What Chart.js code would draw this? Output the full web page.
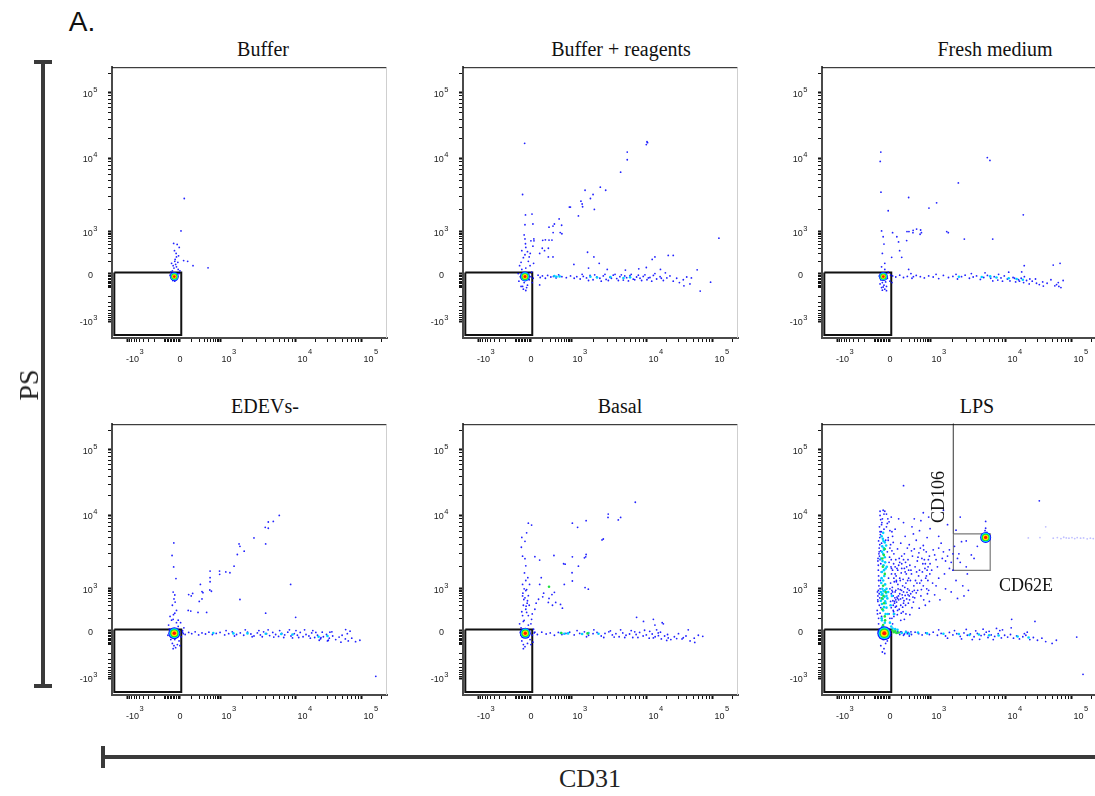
<!DOCTYPE html>
<html>
<head>
<meta charset="utf-8">
<script src="https://cdn.jsdelivr.net/npm/chart.js"></script>
<style>
  body { margin: 0; background: #fff; width: 1095px; height: 796px; overflow: hidden; position: relative; }
  canvas { position: absolute; }
  .t { position: absolute; transform: translate(-50%, -50%); white-space: nowrap; line-height: 1; color: #111; font-family: "Liberation Serif", serif; }
  .bar { position: absolute; background: #3a3a3a; }
</style>
</head>
<body>
<div class="t" style="left:82px;top:22px;font-family:'Liberation Sans',sans-serif;font-size:28px;">A.</div>

<div class="t" style="left:263px;top:49px;font-size:20px;">Buffer</div>
<div class="t" style="left:621px;top:49px;font-size:20px;">Buffer + reagents</div>
<div class="t" style="left:995px;top:49px;font-size:20px;">Fresh medium</div>
<div class="t" style="left:265px;top:406px;font-size:20px;">EDEVs-</div>
<div class="t" style="left:620px;top:406px;font-size:20px;">Basal</div>
<div class="t" style="left:977px;top:406px;font-size:20px;">LPS</div>

<canvas id="c1" width="353" height="313" style="left:42px;top:57px"></canvas>
<canvas id="c2" width="353" height="313" style="left:393px;top:57px"></canvas>
<canvas id="c3" width="353" height="313" style="left:752px;top:57px"></canvas>
<canvas id="c4" width="353" height="313" style="left:42px;top:414px"></canvas>
<canvas id="c5" width="353" height="313" style="left:393px;top:414px"></canvas>
<canvas id="c6" width="353" height="313" style="left:752px;top:414px"></canvas>

<div class="t" style="left:938px;top:497px;font-size:18px;transform:translate(-50%,-50%) rotate(-90deg);">CD106</div>
<div class="t" style="left:1026px;top:585px;font-size:18px;">CD62E</div>

<!-- PS bar -->
<div class="bar" style="left:41px;top:62px;width:4px;height:624px;"></div>
<div class="bar" style="left:34px;top:60px;width:18px;height:4px;"></div>
<div class="bar" style="left:34px;top:684px;width:18px;height:4px;"></div>
<div class="t" style="left:29px;top:385px;font-size:28px;color:#222;transform:translate(-50%,-50%) rotate(-90deg);">PS</div>

<!-- CD31 bar -->
<div class="bar" style="left:103px;top:755px;width:1000px;height:4px;"></div>
<div class="bar" style="left:101px;top:746px;width:4px;height:22px;"></div>
<div class="t" style="left:590px;top:779px;font-size:26px;color:#222;">CD31</div>

<script>
// ---- axis ticks ----
const majorTicks = [-1000, 0, 1000, 10000, 100000];
const majorBase = ['-10', '0', '10', '10', '10'];
const majorExp = ['3', '', '3', '4', '5'];
const minorTicks = [-900, -800, -700, -600, -500, -400, -300, -200, -100,
  -90, -80, -70, -60, -50, -40, -30, -20, -10,
  100, 200, 300, 400, 500, 600, 700, 800, 900,
  2000, 3000, 4000, 5000, 6000, 7000, 8000, 9000,
  20000, 30000, 40000, 50000, 60000, 70000, 80000, 90000, 200000];

// ---- gates (CD31, PS) ----
const gateX = [-2200, 10];
const gateY = [-2400, 8];
const insetX = [2030, 6200];
const insetY = [1790, 5600];

// ---- Buffer ----
const bufferCores = [[-33, -19]];
const bufferEvents = [[33, 2850], [8, 1030], [-37, 430], [-16, 400], [-4, 320], [-20, 150], [-8, 165], [28, 107],
  [61, 100], [114, 60], [402, 42], [-50, 80], [-40, 60], [-30, 100], [-20, 50], [-10, 30], [-45, 20], [-55, 10],
  [-25, 70], [-35, 40], [0, 20], [-60, -10], [-15, -5], [-5, 0], [-48, -30], [-20, -40], [-38, 5], [-28, 120],
  [-12, 90], [-42, -45], [-30, -50], [-22, 200], [-32, 250]];
const bufferDense = [];
const bufferGreen = [];

// ---- Buffer + reagents ----
const reagentCores = [[-35, -19]];
const reagentEvents = [[-37, 17000], [10000, 18000], [10200, 17400], [9800, 16300], [5500, 12500], [5500, 9600],
  [4500, 6500], [2430, 4060], [2860, 3690], [1530, 3690], [1350, 2620], [1400, 2400], [1420, 2200], [1800, 2850],
  [1950, 3230], [2030, 2020], [1250, 1650], [950, 2180], [880, 2180], [405, 1500], [280, 1280], [180, 1160],
  [250, 1200], [490, 1230], [500, 870], [440, 950], [253, 950], [130, 560], [100, 540], [23, 520], [180, 550],
  [230, 550], [170, 300], [95, 300], [70, 200], [120, 250], [250, 150], [170, 150], [-4, 200], [-10, 150], [15, 350],
  [22, 600], [0, 520], [15, 1280], [8, 1750], [-32, 1700], [-35, 1250], [-50, 3230], [-40, 800], [-35, 600],
  [-32, 420], [-30, 320], [1650, 220], [1090, 70], [2350, 80], [13200, 150], [21000, 170], [25000, 170],
  [123000, 630], [57600, 27], [47100, -28], [36300, -85], [92000, -57], [64000, -134], [-60, -90], [-45, -115],
  [-30, -128], [70, -78],
  [56, -10], [75, -25], [97, -15], [130, -30], [160, -12], [210, -22], [260, -18], [320, -28], [390, -8], [500, -20],
  [700, -26], [960, -15], [1100, -30], [1190, -20], [1320, -35], [1450, -18], [1600, -28], [1780, -12], [1950, -40],
  [2180, -22], [2400, -30], [2660, -15], [2900, -38], [3260, -24], [3600, -10], [4000, -32], [4400, -20], [4880, -42],
  [5400, -26], [5970, -14], [6600, -36], [7300, -22], [8100, -30], [8930, -18], [10000, -40], [11100, -25],
  [12500, -12], [14000, -35], [15800, -20], [17700, -45], [20000, -28], [22300, -15], [25000, -50], [28200, -30],
  [31000, -60], [35500, -40], [40000, -22], [44800, -70],
  [1400, -5], [1700, -45], [2050, -8], [2500, -50], [2800, -5], [3100, -45], [3400, -30], [3800, -5], [4200, -45],
  [4600, -8], [5100, -15], [5700, -48], [6200, -5], [6900, -40], [7700, -10], [8500, -45], [9400, -8], [10500, -28],
  [11800, -50], [13200, 0], [16500, -30], [19000, 5],
  [1700, 40], [3000, 30], [5200, 25], [7800, 35], [9800, 45], [16000, 30], [12000, 120], [2000, 150],
  [-70, 60], [-55, 30], [-40, -60], [-20, -80], [-10, -40], [5, 10], [-65, -20], [-50, -90], [-5, 60], [10, -60],
  [-30, 40], [-75, -50], [-25, -100], [0, -20], [-60, 90], [-45, 140], [-35, 180], [-20, 230], [-55, 250],
  [-15, 100], [20, 80], [17, -30], [-80, 0], [-40, -10]];
const reagentDense = [[280, -15], [330, -20], [420, -18], [1800, -20], [2200, -25], [3300, -22], [4900, -28],
  [6000, -24]];
const reagentGreen = [];

// ---- Fresh medium ----
const freshCores = [[-39, -19]];
const freshEvents = [[-55, 12500], [-59, 9100], [-54, 3470], [-10, 1940], [5680, 10300], [6150, 9400], [2360, 4640],
  [190, 2940], [1220, 2490], [920, 2110], [18300, 1710], [1660, 1010], [1740, 940], [2830, 590], [6690, 590],
  [165, 1010], [195, 1010], [274, 1050], [360, 1090], [490, 1060], [470, 840], [520, 940], [270, 940], [20, 940],
  [54, 700], [69, 480], [79, 250], [160, 530], [13, 145], [100, 145], [-50, 1030], [-40, 700], [-35, 410], [-45, 200],
  [-30, 80], [190, 30], [230, 0], [280, -20], [18900, 60], [17300, 12], [52000, 65], [66000, 80], [73500, -45],
  [58400, -75], [63300, -90], [36800, -87], [29000, -65],
  [20, -15], [45, -22], [80, -10], [120, -25], [170, -18], [250, -30], [350, -12], [480, -20], [650, -28], [900, -15],
  [1100, -22], [1300, -32], [1500, -12], [1750, -25], [2000, -18], [2300, -35], [2600, -20], [2900, -10], [3300, -30],
  [3700, -22], [4100, -15], [4600, -38], [5100, -25], [5700, -12], [6300, -30], [7000, -20], [7800, -42], [8600, -28],
  [9500, -15], [10500, -35], [11500, -48], [12800, -25], [14000, -55], [15500, -40], [17000, -30], [18500, -60],
  [20500, -45], [22500, -70], [25000, -50], [28000, -35], [32000, -75], [36000, -55], [42000, -65], [48000, -40],
  [55000, -85], [62000, -60], [68000, -100],
  [1200, -5], [2200, -5], [3500, 0], [5300, 5], [8000, -5], [11000, 10], [13500, -30], [16000, -50], [19000, -20],
  [23000, -35], [9000, -50], [6700, -48],
  [-55, -40], [-45, -60], [-35, -80], [-50, -100], [-30, -115], [-40, -95], [-60, -70], [-25, -55], [-20, -90],
  [-45, -125], [-15, -30], [-65, -15], [-10, 10], [5, -10], [-30, 30], [-50, 50], [0, -50], [-40, -20], [15, -60],
  [-20, -130]];
const freshDense = [[2400, -20], [4800, -22], [6200, -18], [7500, -25], [11000, -30], [14500, -35], [18000, -40]];
const freshGreen = [];

// ---- EDEVs- ----
const edevCores = [[-33, -17]];
const edevEvents = [[6030, 10000], [5030, 8300], [4320, 8150], [3940, 6900], [4320, 6700], [2800, 4940], [3990, 4100],
  [1780, 4100], [1830, 3800], [2080, 3260], [1690, 2940], [1530, 2040], [1350, 1660], [1190, 1700], [960, 1750],
  [970, 1580], [470, 1750], [470, 1420], [470, 1250], [460, 920], [520, 840], [220, 1150], [250, 820], [270, 760],
  [200, 400], [250, 480], [70, 660], [110, 720], [95, 600], [66, 200], [90, 190], [180, 170], [360, 170], [1830, 460],
  [8500, 1150], [3990, 160], [9900, 110], [162000, -890],
  [-36, 4230], [-47, 2850], [-37, 1990], [-23, 1380], [-40, 790], [-30, 640], [-35, 480], [-28, 380], [-45, 300],
  [-20, 200], [-38, 140], [-50, 82], [-10, 82],
  [56600, 7], [66000, -4], [32700, -10], [30900, -65], [22500, -65], [23900, -47],
  [20, -10], [40, -25], [70, -12], [100, -20], [140, -8], [190, -28], [250, -15], [330, -22], [430, -10], [560, -25],
  [750, -18], [1000, -12], [1150, -28], [1300, -20], [1450, -8], [1650, -25], [1850, -15], [2050, -30], [2300, -10],
  [2550, -22], [2800, -35], [3100, -15], [3400, -28], [3750, -8], [4100, -20], [4500, -32], [4950, -12], [5400, -25],
  [5900, -38], [6500, -18], [7100, -28], [7800, -10], [8600, -35], [9500, -20], [10500, -30], [11600, -12],
  [12800, -40], [14200, -25], [15700, -35], [17300, -15], [19200, -45], [21200, -30], [23500, -55], [26000, -40],
  [29000, -25], [32000, -50], [36000, -35], [40000, -60], [45000, -42], [50000, -30], [56000, -55], [62000, -70],
  [70000, -50], [80000, -76], [93000, -65],
  [1200, 0], [1550, -35], [2150, 5], [2650, -40], [3250, 0], [3600, -40], [4300, 5], [5100, -42], [6100, 0],
  [6900, -45], [8200, 5], [9000, -48], [10000, 0], [11000, -45], [13500, 5], [16500, -50], [18000, 0], [20000, -12],
  [25000, -10], [30000, -70], [35000, -8], [48000, -80], [60000, -20],
  [-70, 40], [-60, -20], [-55, -60], [-45, -90], [-35, -110], [-25, -130], [-15, -100], [-5, -70], [10, -40], [20, 0],
  [30, 20], [-20, 60], [-40, 90], [-60, 120], [-30, 160], [-50, -40], [-65, 10], [0, -110], [-40, -140], [-10, 30],
  [25, -20], [-75, -30], [5, 60], [-30, -60]];
const edevDense = [[4000, -20], [2300, -18], [6400, -22], [22000, -40], [30000, -35], [600, -15], [1500, -18],
  [9000, -25]];
const edevGreen = [[-10, -5], [-55, -15]];

// ---- Basal ----
const basalCores = [[-33, -17]];
const basalEvents = [[7020, 15900], [3090, 10500], [3070, 9400], [4500, 9400], [4190, 8700], [1580, 8500],
  [1040, 7850], [1220, 6900], [2660, 4780], [2560, 4650], [1580, 2940], [1560, 2730], [1500, 2650], [1040, 2730],
  [270, 2850], [570, 2200], [640, 2170], [1250, 2040], [1030, 1660], [1040, 1280], [600, 1150], [1530, 1040],
  [1690, 980], [280, 780], [230, 660], [180, 500], [170, 370], [240, 300], [310, 370], [450, 320], [520, 240],
  [85, 1420], [70, 1150], [110, 730], [100, 560], [60, 470], [40, 350], [30, 220], [70, 2470], [30, 2750],
  [7300, 110], [13200, 40], [17700, 50], [42200, 5], [53000, -82], [70000, -37], [35500, -47], [28200, -53],
  [19900, -66], [14900, -33],
  [-15, 7850], [5, 7400], [-25, 5800], [-55, 5030], [-35, 4450], [-58, 3690], [-50, 2790], [-35, 2580], [-30, 2060],
  [-38, 1650], [-18, 1420], [-8, 1150], [-30, 880], [-48, 730], [-15, 610], [-42, 460], [-22, 350], [-30, 220],
  [-15, 130], [-45, 70], [0, 50], [-40, 1000], [-25, 950], [-50, 600], [-35, 520], [-20, 420], [-45, 300], [-28, 280],
  [-55, 180], [-10, 300], [10, 150], [-30, 1300], [-50, 1150],
  [25, -15], [50, -25], [90, -10], [140, -22], [200, -15], [280, -30], [380, -12], [500, -25], [680, -18], [900, -10],
  [1100, -28], [1300, -18], [1500, -8], [1700, -30], [1950, -20], [2200, -12], [2500, -35], [2800, -18], [3150, -8],
  [3500, -28], [3900, -20], [4300, -40], [4800, -15], [5300, -30], [5900, -22], [6500, -45], [7200, -25], [8000, -12],
  [8900, -35], [9800, -28], [10800, -50], [12000, -22], [13300, -40], [14800, -15], [16500, -55], [18500, -35],
  [20500, -25], [23000, -60], [26000, -40], [30000, -20], [34000, -55], [39000, -35], [45000, -70], [52000, -50],
  [60000, -30],
  [1200, 0], [1600, -40], [2000, 5], [2700, -45], [3300, -2], [3700, -42], [4500, 5], [5100, -45], [6200, 0],
  [6900, -8], [7600, -45], [9300, 2], [11000, -5], [12500, -48], [14000, 5], [16000, -10], [17000, 60], [21000, -48],
  [12500, 90], [9000, 70],
  [-70, 50], [-60, -30], [-55, -70], [-45, -100], [-35, -120], [-20, -90], [-5, -60], [10, -30], [20, 10], [-15, 40],
  [-40, 80], [-65, -10], [-30, -40], [0, -100], [-50, 130], [-25, 170], [5, 90], [-45, -140], [15, -80], [-10, -20],
  [-60, 20], [30, -10]];
const basalDense = [[460, -15], [600, -20], [800, -18], [1400, -22], [1700, -15], [2300, -20]];
const basalGreen = [[480, -15], [1650, -18], [180, 1070]];

// ---- LPS ----
const lpsCores = [[-33, -17], [5400, 5030]];
const lpsEvents = [[30, 120], [60, 200], [90, 80], [120, 350], [150, 150], [200, 600], [250, 250], [300, 900],
  [45, 450], [80, 700], [110, 1100], [160, 480], [220, 1300], [280, 380], [350, 750], [420, 1500], [500, 600],
  [600, 1100], [700, 300], [800, 1800], [900, 900], [1000, 2200], [1150, 650], [1300, 1400], [1450, 2600],
  [1600, 1000], [1800, 1900], [2000, 3000], [2200, 1300], [2500, 2300], [2800, 600], [3100, 1600], [3500, 2900],
  [40, 1600], [70, 2100], [100, 2800], [130, 1900], [180, 2500], [240, 3300], [320, 2000], [400, 2700], [480, 3600],
  [560, 1700], [650, 2500], [750, 3200], [850, 1300], [950, 2800], [1100, 3400], [1250, 2000], [1400, 4200],
  [1700, 2800], [2100, 3800], [2600, 4400], [25, 300], [55, 550], [85, 950], [115, 180], [140, 620], [175, 1000],
  [210, 140], [260, 820], [310, 520], [370, 1200], [440, 240], [520, 950], [620, 450], [720, 1400], [820, 700],
  [950, 400], [1200, 1100], [1350, 450], [1550, 1600], [1900, 800], [2300, 500], [2700, 1100], [3200, 900],
  [20, 800], [50, 1250], [95, 1650], [145, 2300], [190, 1400], [230, 1800], [290, 1100], [360, 1700], [460, 1200],
  [580, 2200], [680, 1900], [780, 1000], [880, 2500], [980, 1600], [1080, 1200], [1200, 2500], [1500, 3200],
  [1900, 2300], [2400, 3000], [3000, 2000], [60, 3500], [90, 4200], [140, 5200], [200, 4000], [280, 5600],
  [350, 4600], [450, 6200], [600, 3900], [800, 5000], [1000, 6600], [1300, 5200], [1700, 7500], [2200, 6300],
  [120, 8000], [250, 7000], [500, 8500], [900, 9500], [40, 6500], [70, 9000],
  [-70, 100], [-65, 300], [-75, 600], [-60, 1000], [-70, 1500], [-55, 2200], [-68, 3000], [-62, 4000], [-58, 5500],
  [-50, 7500], [-60, 10000], [-30, 11600], [-45, 9000], [-20, 7000], [-10, 5000], [0, 3600], [10, 2500], [20, 1800],
  [5, 1200], [15, 900], [25, 600], [35, 400], [-5, 8200], [-35, 6500], [-25, 4600], [-15, 3200], [-5, 2300],
  [-80, 200], [-72, 1800], [-66, 3600], [-52, 6000], [30, 3000], [40, 2000], [50, 1300], [-40, 12000], [-20, 10500],
  [15, 6000], [25, 4300], [45, 900], [60, 500], [-78, 800], [-74, 2600], [-64, 7000], [0, 100], [10, 250], [20, 50],
  [35, 150], [-50, 120], [-40, -60], [-25, -90], [-55, -110], [-35, -140], [-15, -70], [-60, -40], [5, -30],
  [-45, -180], [-30, -200],
  [-70, 50], [-60, 160], [-75, 400], [-66, 700], [-58, 1300], [-72, 2100], [-64, 2800], [-56, 3300], [-70, 4500],
  [-60, 6000], [-48, 8000], [-55, 250], [-62, 520], [-68, 1100], [-52, 1700], [-60, 2500], [-50, 4200],
  [-5, 150], [5, 400], [10, 700], [0, 1000], [-8, 1400], [12, 1600], [8, 2000], [-2, 2700], [15, 3300], [5, 4000],
  [-10, 4600], [20, 5200], [0, 6200], [-15, 7800], [10, 9500],
  [25, 200], [35, 350], [50, 280], [70, 450], [90, 300], [110, 520], [40, 800], [65, 1000], [85, 1300], [120, 800],
  [150, 1200], [180, 650], [200, 900], [240, 1600], [270, 550], [330, 1300], [390, 900], [450, 1800], [520, 1300],
  [30, 1400], [55, 1900], [75, 2600], [100, 2200], [130, 3000], [170, 3600], [210, 2100], [260, 2800], [300, 3500],
  [380, 2400], [430, 3100], [540, 2600], [620, 3400], [700, 2200], [760, 1500], [860, 2000], [1050, 1800],
  [1150, 2900], [1300, 3600], [1600, 2400], [1800, 3400], [2300, 2600],
  [15, 100], [28, 180], [42, 260], [58, 140], [75, 220], [95, 160], [110, 260], [130, 90], [22, 420], [38, 520],
  [52, 380], [68, 600], [88, 480], [105, 650], [125, 420], [145, 300], [165, 780], [185, 350], [205, 450], [225, 700],
  [18, 1050], [33, 1250], [48, 1500], [63, 1150], [80, 1400], [98, 900], [115, 1350], [135, 1050], [155, 1600],
  [175, 1300], [12, 1900], [28, 2200], [45, 2500], [62, 1800], [80, 2300], [100, 1900], [120, 2500], [140, 1700],
  [160, 2000], [190, 1800], [-78, 150], [-76, 450], [-72, 900], [-70, 1300], [-75, 2400], [-66, 3200], [-62, 5000],
  [-56, 8800], [-35, 10500], [-12, 9000],
  [60, -5], [80, -25], [100, -10], [120, -30], [150, -5], [170, -20], [200, -35], [230, -8],
  [60, -15], [90, -8], [130, -22], [180, -12], [240, -25], [320, -10], [420, -20], [550, -28], [720, -15], [950, -25],
  [1100, -10], [1250, -30], [1400, -18], [1600, -35], [1800, -12], [2000, -28], [2250, -20], [2500, -38], [2800, -15],
  [3100, -30], [3400, -22], [3800, -40], [4200, -18], [4700, -32], [5200, -25], [5800, -45], [6400, -28], [7100, -38],
  [7900, -20], [8700, -48], [9600, -30], [10600, -42], [11700, -25], [13000, -50], [14500, -35], [16000, -55],
  [18000, -40], [20000, -30], [23000, -60], [26000, -45], [30000, -65], [35000, -50], [40000, -75],
  [1300, 5], [2100, 0], [3000, 8], [4000, -2], [5000, 10], [6000, -5], [7500, 15], [9000, 5], [12000, 20],
  [12200, 90], [27500, 70], [21000, -10], [19000, -20], [58000, -65], [118000, -42], [147000, -780], [50000, -90],
  [1700, -50], [2600, -55], [3600, -60], [4500, -58], [5500, -10], [6800, -60], [8300, 0],
  [120, 28500], [32000, 16700], [-60, 11600], [300, 9000], [600, 11000], [1500, 12000], [2500, 9500],
  [5400, 8300], [5400, 6700], [4200, 3800], [3000, 4500], [3800, 2600], [2000, 1800],
  [5200, 5600], [5700, 5300], [5000, 4700], [5900, 4800], [5300, 6200], [5600, 5900]];
const lpsDense = [[-45, 30], [-30, 60], [-50, 100], [-25, 150], [-40, 200], [-35, 260], [-48, 330], [-28, 400],
  [-42, 480], [-32, 560], [-50, 650], [-22, 750], [-38, 850], [-45, 1000], [-28, 1150], [-40, 1300], [-33, 1500],
  [-48, 1700], [-25, 1900], [-38, 2100], [-44, 2400], [-30, 2700], [-40, 3000], [-35, 3400], [-46, 3800],
  [-30, 4300], [-42, 4800], [-20, 250], [-15, 500], [-55, 420], [-52, 1200], [-20, 1000], [-18, 2000], [-55, 2600],
  [-36, 3600], [-12, 150], [0, 60], [10, 30], [20, 15], [40, 10], [60, 5],
  [-48, 80], [-25, 350], [-45, 700], [-30, 900], [-50, 1400], [-35, 1800], [-28, 2300], [-48, 3200], [-22, 3900],
  [-38, 4500], [-50, 5200], [-40, 5800], [-20, 600], [-55, 800], [100, -15], [150, -10], [200, -20], [-10, 800],
  [5, 300], [15, 600], [30, 150],
  [400, -12], [800, -18], [1500, -20], [2400, -22], [3300, -28], [4400, -25], [6000, -30], [8000, -32],
  [15000, -38], [22000, -45]];
const lpsGreen = [[-40, 40], [-30, 120], [-45, 220], [-35, 350], [-28, 80], [20, 0], [40, -5], [-38, 600],
  [-42, 2000], [-36, 2900], [30, -10], [50, -15], [70, -12], [-48, 500], [-25, 800], [-40, 1100], [-30, 1600],
  [-45, 2600], [-30, 3500]];
const lpsFaint = [[21800, 4940], [32700, 5000], [40000, 7000], [52000, 4900], [60000, 5000], [68000, 4850],
  [75000, 5050], [82000, 4950], [90000, 4900], [100000, 5000], [110000, 4850], [120000, 5000], [135000, 4900],
  [150000, 4950], [170000, 4800], [190000, 4900], [210000, 4850], [230000, 4900], [250000, 4800]];

// ---- biexponential-like display scale ----
const axisAnchors = {
  x: [[-1000, 0.058], [0, 0.247], [1000, 0.393], [10000, 0.669], [100000, 0.909]],
  y: [[-1000, 0.062], [0, 0.238], [1000, 0.392], [10000, 0.663], [100000, 0.905]]
};
const tr = v => Math.asinh(v / 100);

function biexFrac(axis, v) {
  const a = axisAnchors[axis];
  const t = tr(v);
  let i = 0;
  while (i < a.length - 2 && t > tr(a[i + 1][0])) i++;
  const t0 = tr(a[i][0]), t1 = tr(a[i + 1][0]);
  return a[i][1] + (t - t0) / (t1 - t0) * (a[i + 1][1] - a[i][1]);
}

class BiexScale extends Chart.LinearScale {
  determineDataLimits() {
    this.min = -2500;
    this.max = 250000;
  }
  buildTicks() {
    return majorTicks.concat(minorTicks).map(v => ({ value: v }));
  }
  getPixelForValue(v) {
    if (v === null || v === undefined || isNaN(v)) return NaN;
    return this.getPixelForDecimal(biexFrac(this.axis, v));
  }
  getValueForPixel(p) {
    let d = (p - this._startPixel) / this._length;
    if (this._reversePixels) d = 1 - d;
    const a = axisAnchors[this.axis];
    let i = 0;
    while (i < a.length - 2 && d > a[i + 1][1]) i++;
    const t0 = tr(a[i][0]), t1 = tr(a[i + 1][0]);
    const t = t0 + (d - a[i][1]) / (a[i + 1][1] - a[i][1]) * (t1 - t0);
    return 100 * Math.sinh(t);
  }
  // FlowJo style labels: "10" with a raised exponent
  drawLabels() {
    const ctx = this.ctx;
    const baseFont = "9px 'Liberation Sans', Arial, sans-serif";
    const expFont = "7.5px 'Liberation Sans', Arial, sans-serif";
    ctx.save();
    ctx.fillStyle = '#222';
    ctx.textBaseline = 'alphabetic';
    majorTicks.forEach((v, k) => {
      const p = this.getPixelForValue(v);
      const base = majorBase[k], exp = majorExp[k];
      ctx.font = baseFont;
      if (this.isHorizontal()) {
        const by = this.top + 24;
        if (!exp) {
          ctx.textAlign = 'center';
          ctx.fillText(base, p, by);
          return;
        }
        const x0 = base.startsWith('-') ? p - 2 : p + 1.5;
        ctx.textAlign = 'left';
        ctx.fillText(base, x0, by);
        const w = ctx.measureText(base).width;
        ctx.font = expFont;
        ctx.fillText(exp, x0 + w + 0.5, this.top + 16);
      } else {
        const xr = this.right;
        if (!exp) {
          ctx.textAlign = 'center';
          ctx.fillText(base, xr - 21.5, p + 4.5);
          return;
        }
        ctx.font = expFont;
        ctx.textAlign = 'right';
        ctx.fillText(exp, xr - 14.5, p - 1);
        const w = ctx.measureText(exp).width;
        ctx.font = baseFont;
        ctx.fillText(base, xr - 14.5 - w - 0.5, p + 4);
      }
    });
    ctx.restore();
  }
}
BiexScale.id = 'biex';
BiexScale.defaults = {};
Chart.register(BiexScale);

// top and right edges of each plot box
const framePlugin = {
  id: 'frame',
  afterDraw(chart) {
    const { ctx, chartArea: a } = chart;
    ctx.save();
    ctx.lineWidth = 1;
    ctx.strokeStyle = '#111';
    ctx.beginPath();
    ctx.moveTo(a.left, a.top + 0.5);
    ctx.lineTo(a.right, a.top + 0.5);
    ctx.stroke();
    ctx.strokeStyle = '#cfcfcf';
    ctx.beginPath();
    ctx.moveTo(a.right - 0.5, a.top);
    ctx.lineTo(a.right - 0.5, a.bottom);
    ctx.stroke();
    ctx.restore();
  }
};

function axisOpts(pos) {
  return {
    type: 'biex',
    position: pos,
    afterFit: s => { if (pos === 'left') s.width = 60; else s.height = 32; },
    border: { display: true, color: '#4a4a4a', width: 2 },
    grid: {
      display: true,
      drawOnChartArea: false,
      drawTicks: true,
      tickLength: 4,
      tickColor: '#111',
      tickWidth: c => (majorTicks.includes(c.tick.value) ? 2 : 1)
    },
    ticks: { autoSkip: false, maxRotation: 0, callback: () => '' }
  };
}

const coreColors = ['#ff1a00', '#ffe600', '#1ee61e', '#00dcff', '#1010ff'];
const coreScale = [0.3, 0.5, 0.68, 0.84, 1];

function makePanel(id, p) {
  const datasets = [];
  coreColors.forEach((c, i) => {
    datasets.push({ data: p.cores, backgroundColor: c, pointRadius: p.coreSize.map(s => s * coreScale[i]), order: i });
  });
  datasets.push({ data: p.green, backgroundColor: '#22e040', pointRadius: 1.3, order: 5 });
  datasets.push({ data: p.dense, backgroundColor: '#00cfff', pointRadius: 1.3, order: 6 });
  datasets.push({ data: p.faint || [], backgroundColor: 'rgba(130,130,255,0.5)', pointRadius: 0.9, order: 7 });
  datasets.push({ data: p.events, backgroundColor: 'rgba(10,10,255,0.9)', pointRadius: 0.9, order: 8 });
  datasets.push({
    data: [[gateX[0], gateY[1]], [gateX[1], gateY[1]], [gateX[1], gateY[0]], [gateX[0], gateY[0]], [gateX[0], gateY[1]]],
    showLine: true, pointRadius: 0, borderColor: '#111', borderWidth: 2, order: 9
  });
  if (p.inset) {
    datasets.push({
      data: [[insetX[0], 400000], [insetX[0], insetY[1]]],
      showLine: true, pointRadius: 0, borderColor: '#666', borderWidth: 1, order: 10
    });
    datasets.push({
      data: [[insetX[0], insetY[1]], [insetX[1], insetY[1]], [insetX[1], insetY[0]], [insetX[0], insetY[0]], [insetX[0], insetY[1]]],
      showLine: true, pointRadius: 0, borderColor: '#7a7a7a', borderWidth: 1.2, order: 11
    });
  }
  return new Chart(document.getElementById(id), {
    type: 'scatter',
    data: { datasets: datasets },
    options: {
      responsive: false,
      animation: false,
      devicePixelRatio: 1,
      events: [],
      layout: { padding: { left: 10, top: 8, right: 8, bottom: 0 } },
      elements: { point: { borderWidth: 0, hoverRadius: 0 } },
      plugins: { legend: { display: false }, tooltip: { enabled: false } },
      scales: { x: axisOpts('bottom'), y: axisOpts('left') }
    },
    plugins: [framePlugin]
  });
}

makePanel('c1', { cores: bufferCores, coreSize: [4.5], events: bufferEvents, dense: bufferDense, green: bufferGreen });
makePanel('c2', { cores: reagentCores, coreSize: [5], events: reagentEvents, dense: reagentDense, green: reagentGreen });
makePanel('c3', { cores: freshCores, coreSize: [4.5], events: freshEvents, dense: freshDense, green: freshGreen });
makePanel('c4', { cores: edevCores, coreSize: [6], events: edevEvents, dense: edevDense, green: edevGreen });
makePanel('c5', { cores: basalCores, coreSize: [5.5], events: basalEvents, dense: basalDense, green: basalGreen });
makePanel('c6', { cores: lpsCores, coreSize: [7, 5.5], events: lpsEvents, dense: lpsDense, green: lpsGreen, faint: lpsFaint, inset: true });
</script>
</body>
</html>
